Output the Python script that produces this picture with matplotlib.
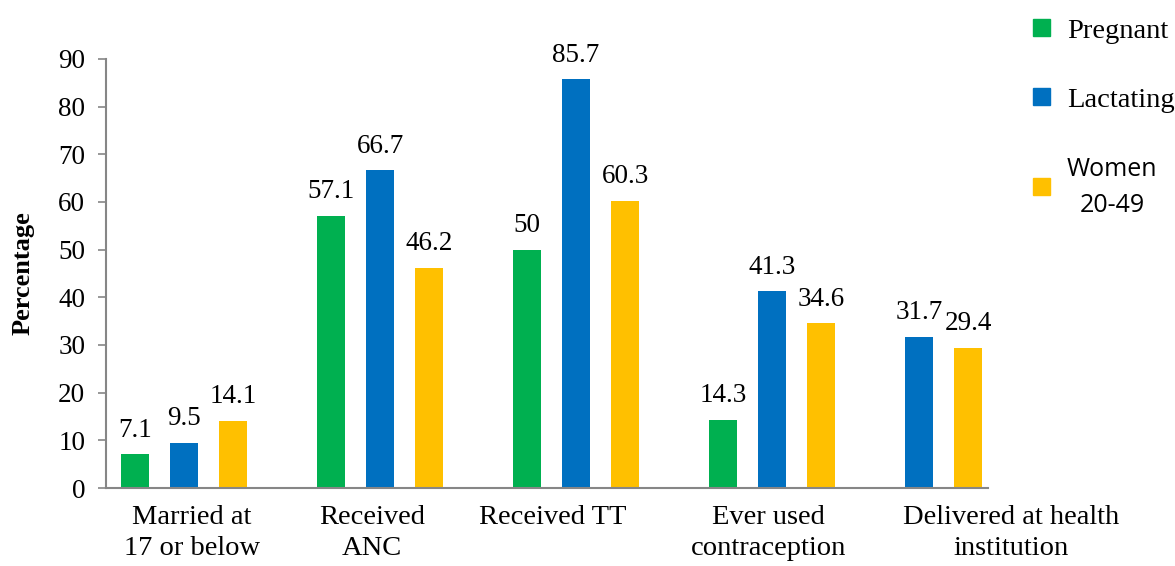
import matplotlib.pyplot as plt
from matplotlib.patches import Patch

categories = ['Married at\n17 or below', 'Received\nANC', 'Received TT',
              'Ever used\ncontraception', 'Delivered at health\ninstitution']
series = ['Pregnant', 'Lactating', 'Women\n20-49']
pregnant = [7.1, 57.1, 50, 14.3, None]
lactating = [9.5, 66.7, 85.7, 41.3, 31.7]
women = [14.1, 46.2, 60.3, 34.6, 29.4]

colors = ['#00B050', '#0070C0', '#FFC000']
serif = 'Liberation Serif'

fig = plt.figure(figsize=(11.75, 5.66), dpi=100)
ax = fig.add_axes([0.0902, 0.1378, 0.9098, 0.7580])

bar_w = 0.143
step = 0.25
all_vals = [pregnant, lactating, women]

for g in range(len(categories)):
    present = [s for s in range(3) if all_vals[s][g] is not None]
    for slot, s in enumerate(present):
        v = all_vals[s][g]
        x = g + (slot - 1) * step
        ax.bar(x, v, width=bar_w, color=colors[s], zorder=2)
        ax.text(x, v + 2.4, f'{v:g}', ha='center', va='bottom',
                fontsize=19.5, family=serif)

ax.set_ylim(0, 90)
ax.set_yticks(range(0, 91, 10))
ax.set_xlim(-0.398, 5.056)
ax.set_xticks([])

for side in ['top', 'right']:
    ax.spines[side].set_visible(False)
for side in ['left', 'bottom']:
    ax.spines[side].set_color('#868686')
    ax.spines[side].set_linewidth(1.5)
ax.spines['bottom'].set_bounds(-0.398, 4.10)
ax.tick_params(axis='y', length=6, width=1.2, color='#868686', pad=9)
for lab in ax.get_yticklabels():
    lab.set_family(serif)
    lab.set_fontsize(19.5)

# category names under the axis
label_x = [0.04, 0.96, 1.88, 2.98, 4.22]
for x, name in zip(label_x, categories):
    ax.text(x, -3.6, name, ha='center', va='top', fontsize=20.5,
            family=serif, linespacing=1.3)

ax.set_ylabel('Percentage', fontsize=19, fontweight='bold', family=serif,
              labelpad=17)

handles = [Patch(color=c) for c in colors]
leg = fig.legend(handles, series, loc='upper left', bbox_to_anchor=(0.857, 1.012),
                 frameon=False, handlelength=0.6, handleheight=0.55,
                 labelspacing=1.55, handletextpad=0.6, prop={'family': serif, 'size': 20.5})
wt = leg.get_texts()[2]
wt.set_family('Open Sans')
wt.set_fontsize(18)
wt.set_multialignment('center')
wt.set_linespacing(1.55)

fig.savefig('out.png', dpi=100)
